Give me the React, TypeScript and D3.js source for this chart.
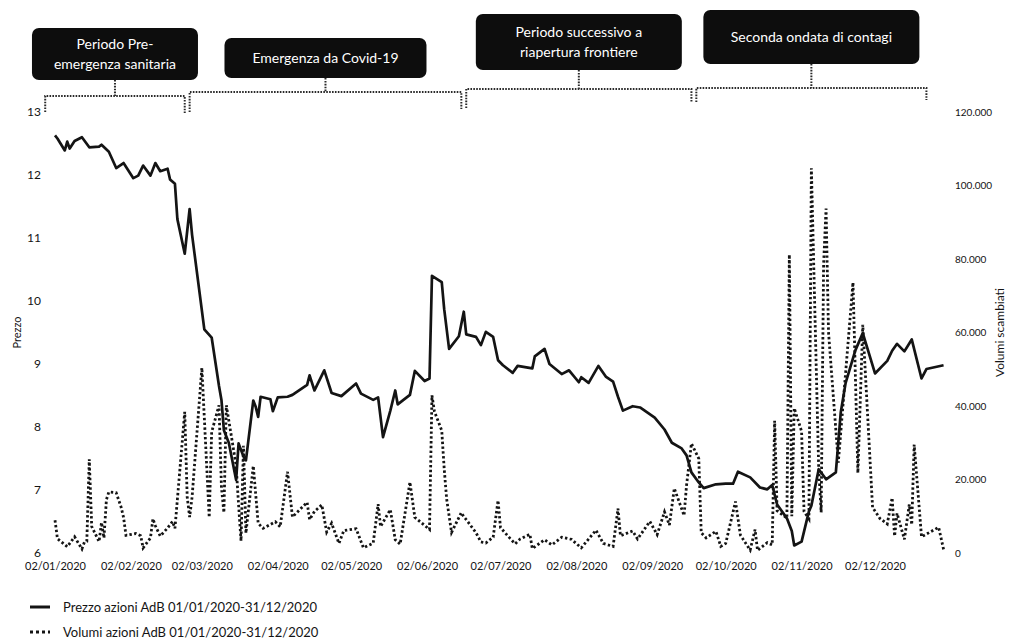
import { useEffect, useRef } from 'react';
import * as d3 from 'd3';

// Prezzo azioni AdB 2020 (euro)
const prezzo: [string, number][] = [
  ['01-02', 12.63], ['01-03', 12.58], ['01-06', 12.39], ['01-07', 12.53], ['01-08', 12.42], ['01-10', 12.54],
  ['01-13', 12.6], ['01-16', 12.44], ['01-20', 12.45], ['01-21', 12.48], ['01-24', 12.37], ['01-27', 12.11],
  ['01-30', 12.19], ['02-03', 11.95], ['02-05', 11.99], ['02-07', 12.15], ['02-10', 11.99], ['02-12', 12.19],
  ['02-14', 12.06], ['02-17', 12.1], ['02-18', 11.93], ['02-20', 11.86], ['02-21', 11.3], ['02-24', 10.75],
  ['02-26', 11.46], ['02-27', 11.05], ['03-03', 9.55], ['03-06', 9.42], ['03-09', 8.65], ['03-10', 8.43],
  ['03-11', 7.95], ['03-13', 7.75], ['03-16', 7.16], ['03-17', 7.74], ['03-19', 7.53], ['03-20', 7.47],
  ['03-23', 8.42], ['03-24', 8.32], ['03-25', 8.16], ['03-26', 8.48], ['03-30', 8.44], ['03-31', 8.25],
  ['04-02', 8.47], ['04-06', 8.48], ['04-08', 8.51], ['04-14', 8.67], ['04-15', 8.82], ['04-17', 8.58],
  ['04-21', 8.9], ['04-24', 8.54], ['04-28', 8.49], ['05-04', 8.69], ['05-06', 8.53], ['05-11', 8.43],
  ['05-13', 8.47], ['05-15', 7.84], ['05-18', 8.26], ['05-20', 8.58], ['05-21', 8.36], ['05-26', 8.51],
  ['05-28', 8.89], ['06-01', 8.73], ['06-03', 8.77], ['06-04', 10.4], ['06-08', 10.3], ['06-09', 9.87],
  ['06-11', 9.24], ['06-15', 9.44], ['06-17', 9.83], ['06-18', 9.47], ['06-22', 9.43], ['06-24', 9.3],
  ['06-26', 9.51], ['06-29', 9.43], ['07-01', 9.06], ['07-03', 8.98], ['07-07', 8.86], ['07-09', 8.97],
  ['07-15', 8.93], ['07-16', 9.12], ['07-20', 9.24], ['07-22', 9.0], ['07-27', 8.84], ['07-30', 8.9],
  ['08-03', 8.71], ['08-04', 8.79], ['08-07', 8.7], ['08-11', 8.97], ['08-14', 8.8], ['08-17', 8.72],
  ['08-19', 8.48], ['08-21', 8.26], ['08-25', 8.33], ['08-28', 8.31], ['09-03', 8.15], ['09-07', 7.96],
  ['09-10', 7.75], ['09-14', 7.66], ['09-16', 7.55], ['09-18', 7.28], ['09-21', 7.12], ['09-23', 7.03],
  ['09-28', 7.09], ['10-02', 7.1], ['10-05', 7.1], ['10-07', 7.29], ['10-12', 7.2], ['10-16', 7.04],
  ['10-19', 7.01], ['10-21', 7.08], ['10-23', 6.77], ['10-27', 6.55], ['10-29', 6.35], ['10-30', 6.12],
  ['11-02', 6.18], ['11-05', 6.66], ['11-06', 6.75], ['11-09', 7.33], ['11-12', 7.17], ['11-16', 7.28],
  ['11-18', 8.23], ['11-20', 8.7], ['11-24', 9.22], ['11-27', 9.49], ['12-02', 8.85], ['12-07', 9.05],
  ['12-09', 9.21], ['12-11', 9.32], ['12-14', 9.2], ['12-17', 9.39], ['12-21', 8.77], ['12-23', 8.92],
  ['12-30', 8.98],
];

// Volumi scambiati (azioni)
const volumi: [string, number][] = [
  ['01-02', 8900], ['01-03', 3900], ['01-07', 1700], ['01-10', 4400], ['01-13', 1100], ['01-14', 2900],
  ['01-15', 3200], ['01-16', 25500], ['01-17', 7200], ['01-20', 3100], ['01-21', 8300], ['01-22', 4100],
  ['01-23', 14500], ['01-24', 16600], ['01-27', 16400], ['01-29', 12500], ['01-30', 9700], ['01-31', 4800],
  ['02-04', 5300], ['02-06', 4700], ['02-07', 1400], ['02-10', 4100], ['02-11', 9300], ['02-12', 7400],
  ['02-14', 4600], ['02-17', 6800], ['02-19', 8600], ['02-20', 6700], ['02-24', 38400], ['02-25', 15300],
  ['02-26', 9800], ['02-27', 15200], ['03-02', 50400], ['03-05', 9700], ['03-06', 32900], ['03-09', 40200],
  ['03-10', 17900], ['03-11', 11000], ['03-12', 40200], ['03-16', 23800], ['03-17', 13100], ['03-18', 3300],
  ['03-19', 29200], ['03-20', 5400], ['03-23', 23700], ['03-25', 8100], ['03-27', 6700], ['04-01', 8500],
  ['04-03', 7100], ['04-06', 22100], ['04-08', 9800], ['04-14', 13800], ['04-15', 9100], ['04-17', 11300],
  ['04-20', 13100], ['04-22', 5700], ['04-24', 8100], ['04-27', 2600], ['04-29', 6100], ['05-04', 6600],
  ['05-07', 1400], ['05-11', 2700], ['05-13', 13300], ['05-14', 7200], ['05-18', 11800], ['05-20', 3600],
  ['05-22', 2400], ['05-26', 19300], ['05-28', 9700], ['06-03', 6400], ['06-04', 42900], ['06-05', 38500],
  ['06-08', 33300], ['06-09', 22900], ['06-10', 14700], ['06-12', 5600], ['06-16', 11000], ['06-17', 9900],
  ['06-18', 9100], ['06-22', 5500], ['06-24', 3000], ['06-26', 2700], ['06-29', 4300], ['07-01', 14300],
  ['07-02', 6900], ['07-06', 3900], ['07-08', 2500], ['07-10', 3800], ['07-14', 5100], ['07-15', 1200],
  ['07-20', 3600], ['07-23', 2200], ['07-27', 4300], ['07-31', 3700], ['08-04', 1400], ['08-10', 6200],
  ['08-13', 2600], ['08-17', 1800], ['08-19', 12100], ['08-20', 4700], ['08-25', 6000], ['08-27', 3800],
  ['09-01', 8600], ['09-04', 5000], ['09-07', 11200], ['09-09', 7600], ['09-11', 17600], ['09-15', 10200],
  ['09-16', 18400], ['09-18', 29800], ['09-21', 25700], ['09-22', 5500], ['09-24', 4100], ['09-28', 5900],
  ['09-30', 1800], ['10-02', 2600], ['10-06', 14000], ['10-08', 4900], ['10-12', 800], ['10-14', 6400],
  ['10-15', 700], ['10-19', 2800], ['10-21', 2200], ['10-22', 36000], ['10-23', 11500], ['10-27', 9500],
  ['10-28', 81200], ['10-29', 10000], ['10-30', 39400], ['11-02', 33100], ['11-03', 11300], ['11-05', 9300],
  ['11-06', 104700], ['11-09', 22900], ['11-10', 11100], ['11-11', 78700], ['11-12', 93700], ['11-13', 60100],
  ['11-17', 24600], ['11-23', 73600], ['11-25', 21800], ['11-27', 62100], ['12-01', 12400], ['12-04', 9400],
  ['12-07', 7900], ['12-09', 15000], ['12-10', 4600], ['12-11', 10800], ['12-14', 3700], ['12-16', 13200],
  ['12-17', 7700], ['12-18', 29500], ['12-21', 4400], ['12-28', 7000], ['12-30', 1000],
];

const tickDate = ['01-02', '02-02', '03-02', '04-02', '05-02', '06-02', '07-02', '08-02', '09-02', '10-02', '11-02', '12-02'];
const tickPrezzo = [6, 7, 8, 9, 10, 11, 12, 13];
const tickVolumi = [0, 20000, 40000, 60000, 80000, 100000, 120000];

const periodi = [
  { righe: ['Periodo Pre-', 'emergenza sanitaria'], inizio: '2019-12-29', fine: '2020-02-24' },
  { righe: ['Emergenza da Covid-19'], inizio: '2020-02-26', fine: '2020-06-16' },
  { righe: ['Periodo successivo a', 'riapertura frontiere'], inizio: '2020-06-18', fine: '2020-09-18' },
  { righe: ['Seconda ondata di contagi'], inizio: '2020-09-20', fine: '2020-12-23' },
];

// geometria dei riquadri neri e delle parentesi
const riquadri = [
  { top: 28, h: 52, w: 166, yb: 96, legA: 16, legB: 17 },
  { top: 38, h: 40, w: 202, yb: 92, legA: 20, legB: 17 },
  { top: 14, h: 56, w: 206, yb: 89, legA: 19, legB: 14 },
  { top: 10, h: 54, w: 216, yb: 88, legA: 14, legB: 12 },
];

const legenda = ['Prezzo azioni AdB 01/01/2020-31/12/2020', 'Volumi azioni AdB 01/01/2020-31/12/2020'];

const parse = d3.timeParse('%Y-%m-%d');
const giorno = (s: string) => parse('2020-' + s)!;
const ink = '#141414';
const font = 'Lato, "Open Sans", sans-serif';

export default function App() {
  const ref = useRef<SVGSVGElement | null>(null);

  useEffect(() => {
    if (!ref.current) return;
    const svg = d3.select(ref.current);
    svg.selectAll('*').remove();

    const left = 55, right = 946, top = 112, bottom = 553;

    const x = d3.scaleTime()
      .domain([giorno('01-02'), giorno('12-31')])
      .range([left, right]);
    const yP = d3.scaleLinear().domain([6, 13]).range([bottom, top]);
    const yV = d3.scaleLinear().domain([0, 120000]).range([bottom, top]);

    const it = d3.formatLocale({ decimal: ',', thousands: '.', grouping: [3], currency: ['€', ''] });

    // Assi
    const ax = svg.append('g').attr('transform', `translate(${left},0)`)
      .call(d3.axisLeft(yP).tickValues(tickPrezzo).tickSize(0).tickPadding(14).tickFormat(d3.format('d')));
    ax.select('.domain').remove();
    ax.selectAll('text').attr('font-family', font).attr('font-size', 12).attr('fill', ink);

    const axR = svg.append('g').attr('transform', `translate(${right},0)`)
      .call(d3.axisRight(yV).tickValues(tickVolumi).tickSize(0).tickPadding(9).tickFormat(it.format(',')));
    axR.select('.domain').remove();
    axR.selectAll('text').attr('font-family', font).attr('font-size', 10).attr('fill', ink);

    const axB = svg.append('g').attr('transform', `translate(0,${bottom})`)
      .call(d3.axisBottom(x).tickValues(tickDate.map(giorno)).tickSize(0).tickPadding(9)
        .tickFormat(d => d3.timeFormat('%d/%m/%Y')(d as Date)));
    axB.select('.domain').remove();
    axB.selectAll('text').attr('font-family', font).attr('font-size', 11).attr('fill', ink);

    svg.append('text')
      .attr('transform', `translate(21,${(top + bottom) / 2}) rotate(-90)`)
      .attr('text-anchor', 'middle').attr('font-family', font).attr('font-size', 11).attr('fill', ink)
      .text('Prezzo');
    svg.append('text')
      .attr('transform', `translate(1004,${(top + bottom) / 2}) rotate(-90)`)
      .attr('text-anchor', 'middle').attr('font-family', font).attr('font-size', 12).attr('fill', ink)
      .text('Volumi scambiati');

    // Volumi (puntinato)
    const lineV = d3.line<[string, number]>()
      .x(d => x(giorno(d[0])))
      .y(d => yV(d[1]));
    svg.append('path').datum(volumi)
      .attr('d', lineV)
      .attr('fill', 'none').attr('stroke', ink).attr('stroke-width', 2.8)
      .attr('stroke-dasharray', '2.4 2.4');

    // Prezzo (linea continua)
    const lineP = d3.line<[string, number]>()
      .x(d => x(giorno(d[0])))
      .y(d => yP(d[1]));
    svg.append('path').datum(prezzo)
      .attr('d', lineP)
      .attr('fill', 'none').attr('stroke', ink).attr('stroke-width', 2.7)
      .attr('stroke-linejoin', 'round');

    // Periodi: parentesi puntinate e riquadri
    periodi.forEach((p, i) => {
      const r = riquadri[i];
      const xa = x(parse(p.inizio)!);
      const xb = x(parse(p.fine)!);
      const xm = (xa + xb) / 2;
      const g = svg.append('g');

      g.append('path')
        .attr('d', `M${xa},${r.yb + r.legA}V${r.yb}H${xb}V${r.yb + r.legB}`)
        .attr('fill', 'none').attr('stroke', '#2a2a2a').attr('stroke-width', 2)
        .attr('stroke-dasharray', '1.6 1.3');
      g.append('line')
        .attr('x1', xm).attr('x2', xm).attr('y1', r.top + r.h).attr('y2', r.yb)
        .attr('stroke', '#2a2a2a').attr('stroke-width', 2).attr('stroke-dasharray', '1.6 1.3');

      g.append('rect')
        .attr('x', xm - r.w / 2).attr('y', r.top).attr('width', r.w).attr('height', r.h)
        .attr('rx', 7).attr('fill', '#0d0d0d');

      const cy = r.top + r.h / 2;
      p.righe.forEach((t, j) => {
        const base = p.righe.length === 1 ? cy + 5 : cy - 5 + j * 20;
        g.append('text')
          .attr('x', xm).attr('y', base)
          .attr('text-anchor', 'middle')
          .attr('font-family', font).attr('font-size', 14).attr('fill', '#fff')
          .text(t);
      });
    });

    // Legenda
    legenda.forEach((t, i) => {
      const ly = 607 + i * 25;
      svg.append('line')
        .attr('x1', 30).attr('x2', 50).attr('y1', ly).attr('y2', ly)
        .attr('stroke', ink).attr('stroke-width', 3)
        .attr('stroke-dasharray', i === 0 ? null : '3 3');
      svg.append('text')
        .attr('x', 63).attr('y', ly + 4.5)
        .attr('font-family', font).attr('font-size', 13).attr('fill', ink)
        .text(t);
    });
  }, []);

  return (
    <svg
      ref={ref}
      width={1013}
      height={642}
      style={{ position: 'absolute', left: 0, top: 0, background: '#fff' }}
    />
  );
}
